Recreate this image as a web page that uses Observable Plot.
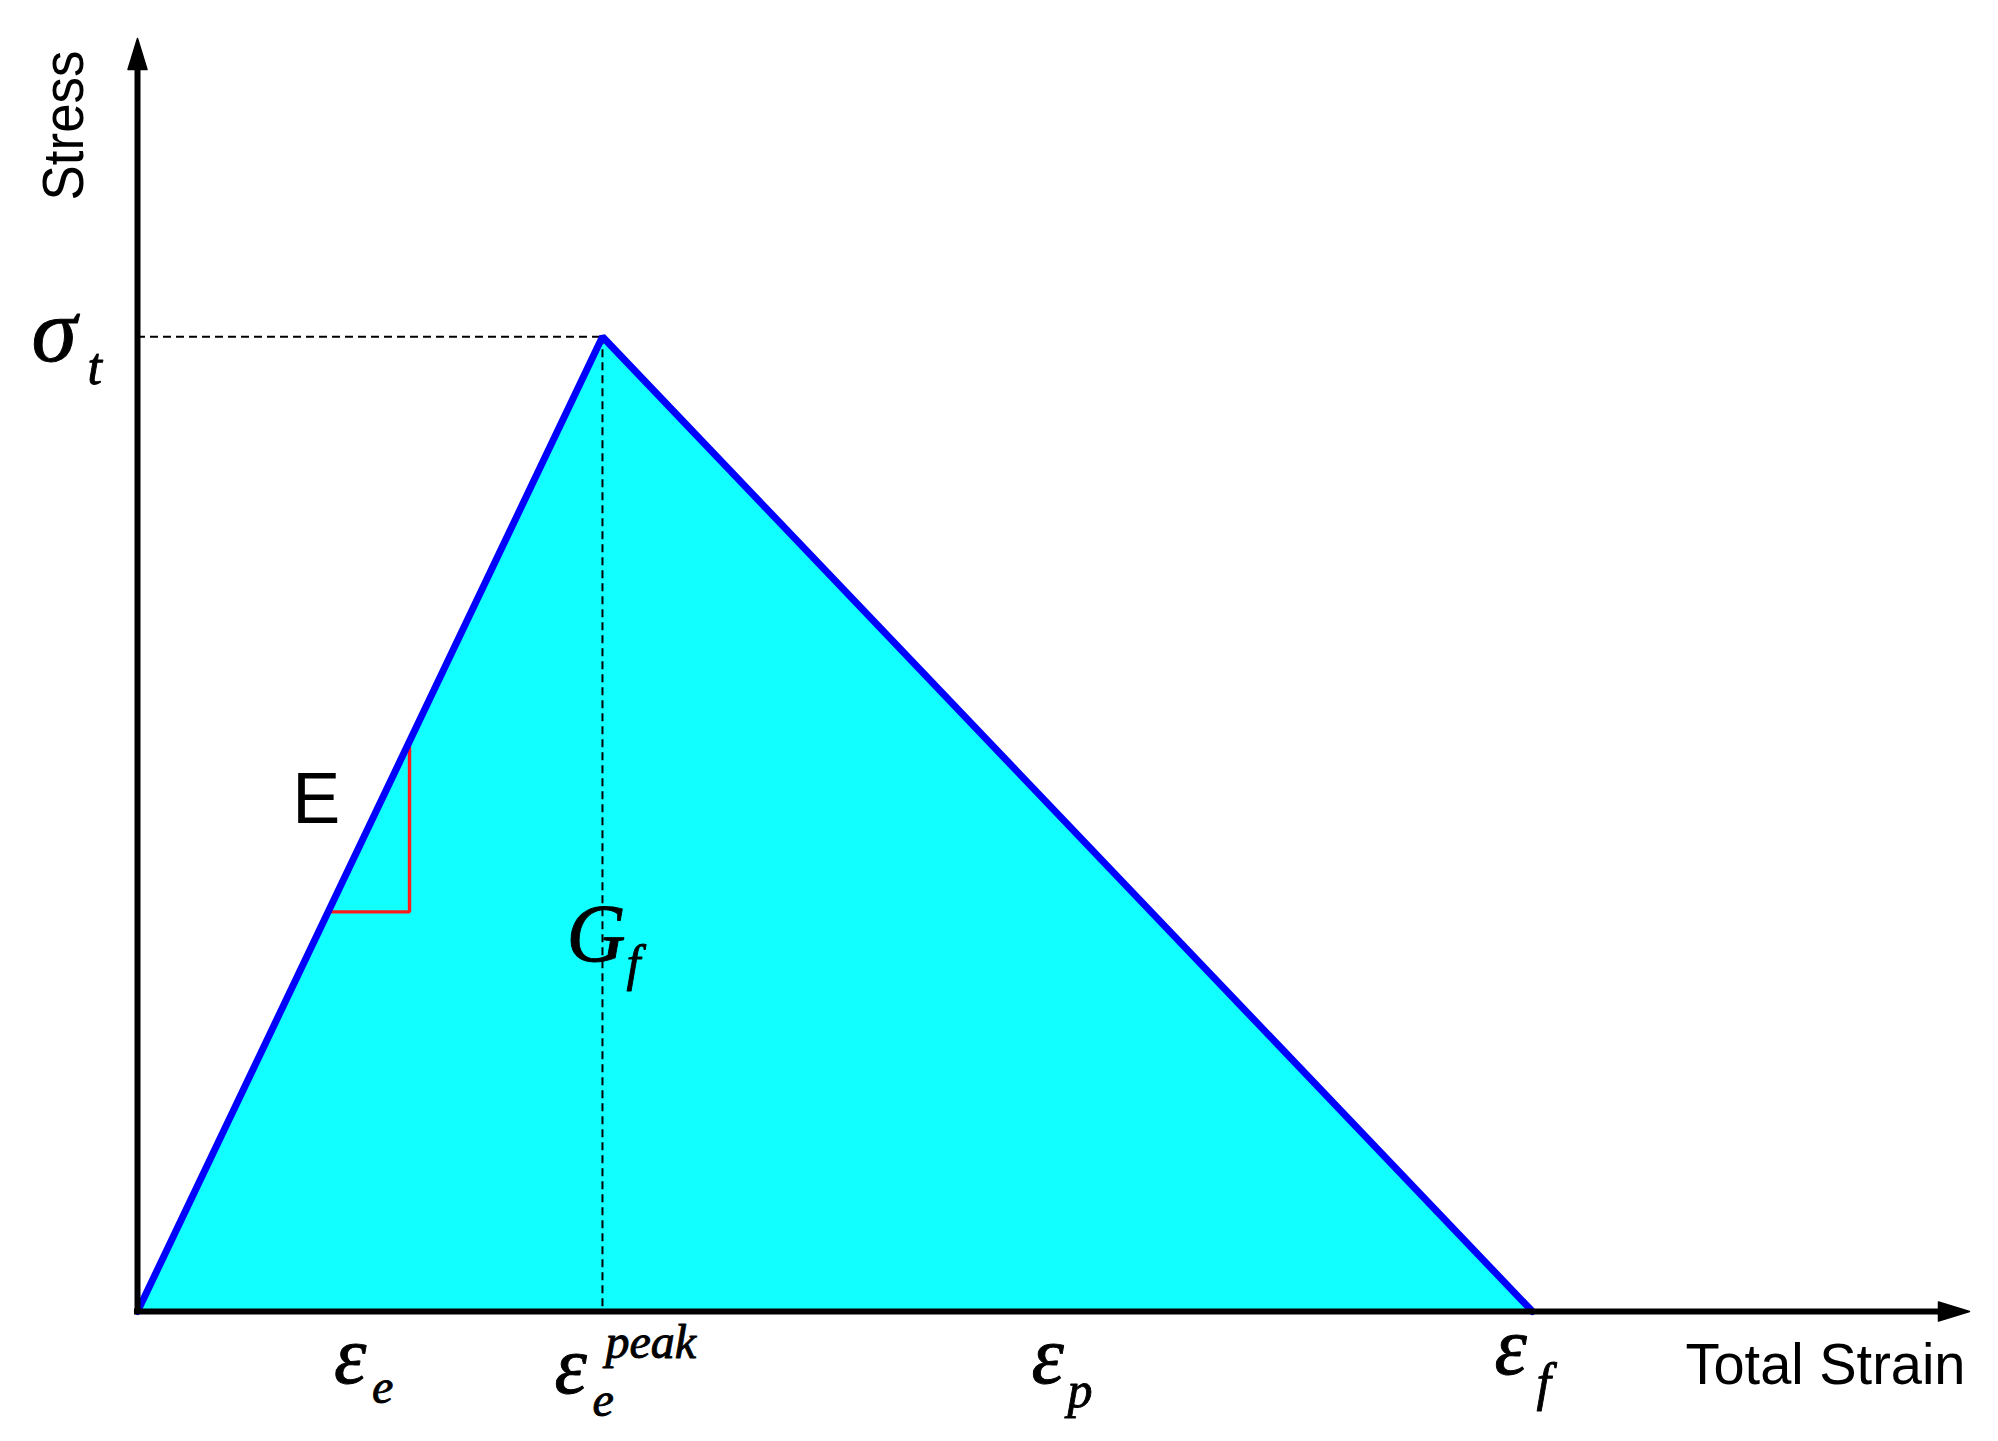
<!DOCTYPE html>
<html><head><meta charset="utf-8">
<script src="https://cdn.jsdelivr.net/npm/d3@7"></script>
<script src="https://cdn.jsdelivr.net/npm/@observablehq/plot@0.6"></script>
<style>
html,body{margin:0;padding:0;background:#fff;}
</style>
</head><body><div id="chart"></div>
<script>
// ---- data (normalised: peak strain = 1, tensile strength = 1) ----
const strain = [0, 1, 3];          // 0, ε_e^peak, ε_f
const stress = [0, 1, 0];          // 0, σ_t, 0
const peakStrain = 1;
const peakStress = 1;
const slopeStrain = [0.41, 0.585, 0.585];   // E slope triangle
const slopeStress = [0.41, 0.41, 0.585];
const xMax = 3.94;
const yMax = 1.306;
const strainTicks = [0.5, 1, 2, 3];         // ε_e, ε_e^peak, ε_p, ε_f positions

const curve = strain.map((s, i) => ({x: s, y: stress[i]}));
const slope = slopeStrain.map((s, i) => ({x: s, y: slopeStress[i]}));

const serif = "'Liberation Serif','Times New Roman',serif";
const sans = "'Liberation Sans',Arial,sans-serif";

function label(t, x, y, o) {
  return Plot.text([{t, x, y}], {
    x: "x", y: "y", text: "t", lineAnchor: "bottom", textAnchor: "start",
    fill: "black", ...o
  });
}
const it = (size) => ({fontFamily: serif, fontStyle: "italic", fontSize: size, stroke: "black", strokeWidth: 0.9});

const arrowHead = {
  draw(ctx) {
    ctx.moveTo(0, 0);
    ctx.lineTo(9.5, 31);
    ctx.lineTo(-9.5, 31);
    ctx.closePath();
  }
};

const chart = Plot.plot({
  width: 1998,
  height: 1441,
  marginLeft: 137,
  marginRight: 29,
  marginTop: 38,
  marginBottom: 130,
  x: {domain: [0, xMax], axis: null},
  y: {domain: [0, yMax], axis: null},
  style: {background: "white", overflow: "visible"},
  marks: [
    Plot.areaY(curve, {x: "x", y: "y", fill: "#12ffff"}),
    Plot.ruleY([peakStress], {x1: 0, x2: peakStrain, stroke: "black", strokeWidth: 2, strokeDasharray: "8,5"}),
    Plot.ruleX([peakStrain], {y1: peakStress, y2: 0, stroke: "black", strokeWidth: 2, strokeDasharray: "8,5"}),
    Plot.line(slope, {x: "x", y: "y", stroke: "#ff1a1a", strokeWidth: 3.4, strokeLinejoin: "miter"}),
    Plot.line(curve, {x: "x", y: "y", stroke: "#0000ff", strokeWidth: 7, strokeLinejoin: "miter"}),
    // axes
    Plot.ruleX([0], {y1: yMax, y2: 0, insetTop: 24, insetBottom: -3, stroke: "black", strokeWidth: 6}),
    Plot.ruleY([0], {x1: 0, x2: xMax, insetRight: 24, insetLeft: -3, stroke: "black", strokeWidth: 6}),
    Plot.dot([{x: 0, y: yMax}], {x: "x", y: "y", symbol: arrowHead, r: 10, fill: "black", stroke: "black", strokeWidth: 1.5, strokeLinejoin: "round"}),
    Plot.dot([{x: xMax, y: 0}], {x: "x", y: "y", symbol: arrowHead, r: 10, rotate: 90, fill: "black", stroke: "black", strokeWidth: 1.5, strokeLinejoin: "round"}),
    // axis titles
    label("Stress", 0, yMax, {rotate: -90, textAnchor: "end", dx: -55, dy: 12, fontFamily: sans, fontSize: 58}),
    label("Total Strain", xMax, 0, {textAnchor: "end", dx: -4, dy: 72, fontFamily: sans, fontSize: 57}),
    // σ_t
    label("σ", 0, peakStress, {dx: -106, dy: 24, ...it(92)}),
    label("t", 0, peakStress, {dx: -50, dy: 47, ...it(52)}),
    // ε_e
    label("ε", strainTicks[0], 0, {dx: -36, dy: 71, ...it(82)}),
    label("e", strainTicks[0], 0, {dx: 2, dy: 91, ...it(48)}),
    // ε_e^peak
    label("ε", strainTicks[1], 0, {dx: -48, dy: 81, ...it(82)}),
    label("e", strainTicks[1], 0, {dx: -10, dy: 104, ...it(48)}),
    label("peak", strainTicks[1], 0, {dx: 3, dy: 46, ...it(48)}),
    // ε_p
    label("ε", strainTicks[2], 0, {dx: -36, dy: 71, ...it(82)}),
    label("p", strainTicks[2], 0, {dx: 0, dy: 95, ...it(50)}),
    // ε_f
    label("ε", strainTicks[3], 0, {dx: -38, dy: 62, ...it(82)}),
    label("f", strainTicks[3], 0, {dx: 4, dy: 88, ...it(52)}),
    // G_f
    label("G", peakStrain, peakStress / 3, {dx: -36, dy: -26, ...it(82)}),
    label("f", peakStrain, peakStress / 3, {dx: 24, dy: -7, ...it(50)}),
    // E
    label("E", slopeStrain[0], slopeStress[2], {dx: -36, dy: 82, fontFamily: sans, fontSize: 72})
  ]
});

document.getElementById("chart").appendChild(chart);
d3.select(chart).selectAll("text").each(function() {
  const t = this.textContent;
  if (t === "Total Strain") d3.select(this).attr("textLength", 280).attr("lengthAdjust", "spacingAndGlyphs");
  if (t === "Stress") d3.select(this).attr("textLength", 150).attr("lengthAdjust", "spacingAndGlyphs");
});
</script>
</body></html>
